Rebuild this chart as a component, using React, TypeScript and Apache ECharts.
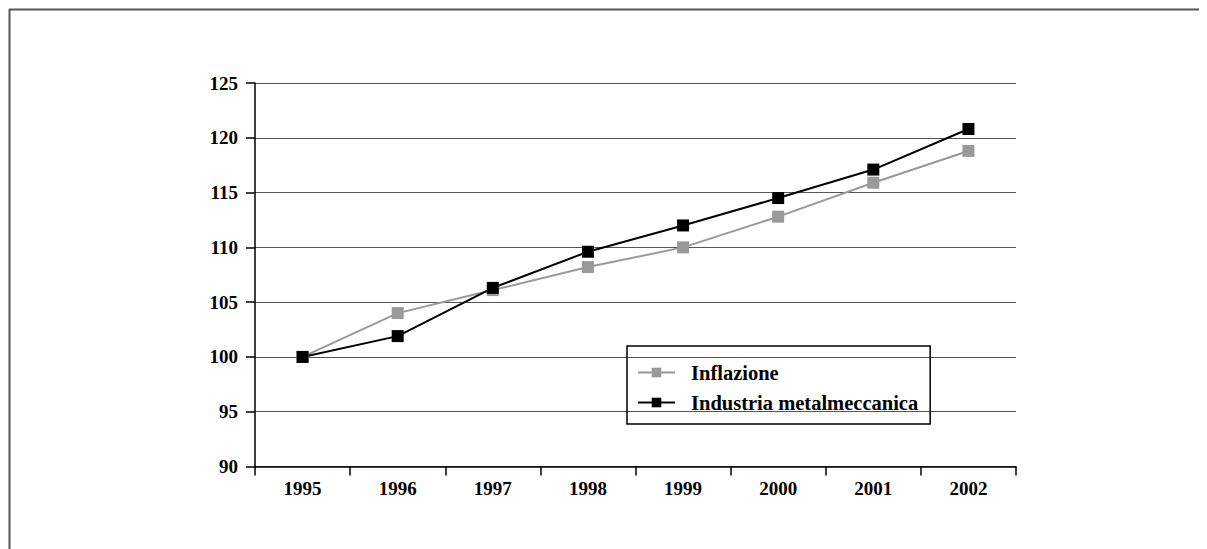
import React, { useEffect, useRef } from "react";
import * as echarts from "echarts";

const years = ["1995", "1996", "1997", "1998", "1999", "2000", "2001", "2002"];
const inflazione = [100, 104, 106.1, 108.2, 110, 112.8, 115.9, 118.8];
const industria = [100, 101.9, 106.3, 109.6, 112, 114.5, 117.1, 120.8];
const seriesNames = ["Inflazione", "Industria metalmeccanica"];

const FONT = "Liberation Serif";

export default function App() {
  const ref = useRef<HTMLDivElement>(null);
  useEffect(() => {
    document.documentElement.style.overflow = "hidden";
    document.body.style.overflow = "hidden";
    if (!ref.current) return;
    const chart = echarts.init(ref.current, null, { renderer: "svg" });
    chart.setOption({
      animation: false,
      backgroundColor: "#ffffff",
      grid: { left: 247, right: 191, top: 75, bottom: 82.5, containLabel: false },
      graphic: [
        { type: "line", shape: { x1: 1, y1: 1.5, x2: 1199, y2: 1.5 }, style: { stroke: "#555", lineWidth: 2 } },
        { type: "line", shape: { x1: 1.5, y1: 1, x2: 1.5, y2: 541 }, style: { stroke: "#555", lineWidth: 2 } },
      ],
      legend: {
        orient: "vertical",
        left: 619,
        top: 338,
        padding: [16, 12, 11, 10],
        borderColor: "#000",
        borderWidth: 1.5,
        itemWidth: 37,
        itemHeight: 12,
        itemGap: 9,
        textStyle: {
          fontFamily: FONT,
          fontWeight: "bold",
          fontSize: 20.5,
          lineHeight: 20,
          color: "#000",
          padding: [0, 0, 0, 11],
        },
        data: seriesNames,
      },
      xAxis: {
        type: "category",
        data: years,
        boundaryGap: true,
        axisLine: { lineStyle: { color: "#000", width: 1.5 } },
        axisTick: { show: true, length: 9, lineStyle: { color: "#000", width: 1.5 } },
        axisLabel: { margin: 12, fontFamily: FONT, fontWeight: "bold", fontSize: 19, color: "#000" },
        splitLine: { show: false },
      },
      yAxis: {
        type: "value",
        min: 90,
        max: 125,
        interval: 5,
        axisLine: { show: true, lineStyle: { color: "#000", width: 1.5 } },
        axisTick: { show: true, length: 9, lineStyle: { color: "#000", width: 1.5 } },
        axisLabel: { margin: 17, fontFamily: FONT, fontWeight: "bold", fontSize: 19, color: "#000" },
        splitLine: { show: true, lineStyle: { color: "#555", width: 1.2 } },
      },
      series: [
        {
          name: seriesNames[0],
          type: "line",
          data: inflazione,
          symbol: "rect",
          symbolSize: 12,
          itemStyle: { color: "#999999" },
          lineStyle: { color: "#999999", width: 2 },
        },
        {
          name: seriesNames[1],
          type: "line",
          data: industria,
          symbol: "rect",
          symbolSize: 12,
          itemStyle: { color: "#000000" },
          lineStyle: { color: "#000000", width: 2 },
        },
      ],
    });
    return () => chart.dispose();
  }, []);
  return <div ref={ref} style={{ width: 1199, height: 541 }} />;
}
